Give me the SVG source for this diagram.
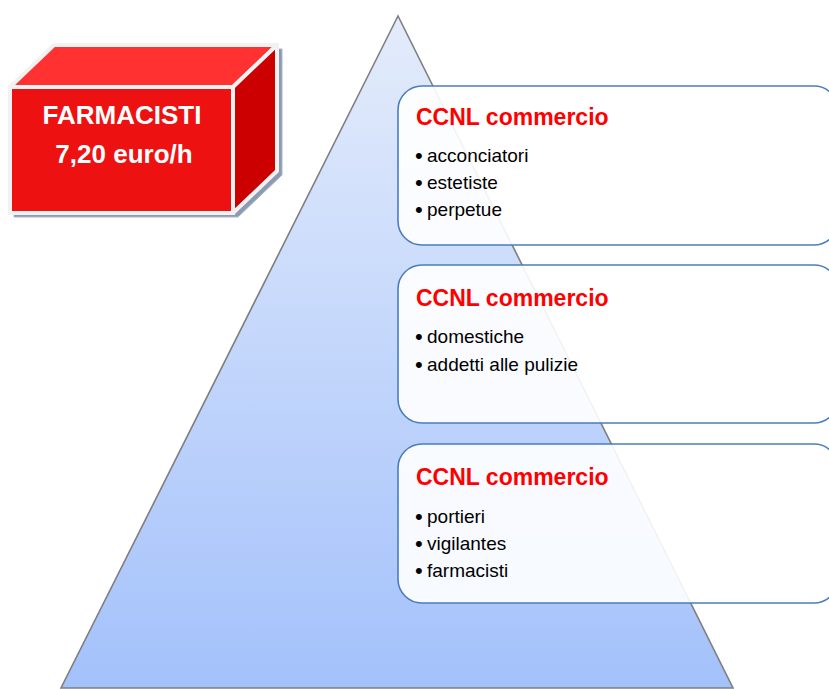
<svg xmlns="http://www.w3.org/2000/svg" width="829" height="689" viewBox="0 0 829 689">
<defs>
<linearGradient id="pyr" x1="0" y1="0" x2="0" y2="1">
<stop offset="0" stop-color="#e4ecfb"/>
<stop offset="1" stop-color="#a3c1fb"/>
</linearGradient>
<style>
.box{fill:#ffffff;fill-opacity:0.9;stroke:#4a7ebb;stroke-width:1.6}
.title{font-family:"Liberation Sans",Arial,sans-serif;font-weight:bold;font-size:23px;fill:#ff0000}
.item{font-family:"Liberation Sans",Arial,sans-serif;font-size:19px;fill:#000000}
.bul{font-family:"Liberation Sans",Arial,sans-serif;font-size:22px;fill:#000000}
.cube{font-family:"Liberation Sans",Arial,sans-serif;font-weight:bold;font-size:26px;fill:#ffffff}
</style>
</defs>
<rect width="829" height="689" fill="#ffffff"/>
<g id="pyramid">
<polygon points="398,16 61,688 733,688" fill="url(#pyr)" stroke="#7f7f7f" stroke-width="1.6"/>
</g>
<g id="cube">
<polygon points="14,91 58,49 282,49 282,175 238,217 14,217" fill="#8d9bb0" stroke="#a9b6c8" stroke-width="1"/>
<polygon points="10,87 54,45 277,45 233,87" fill="#ff3131" stroke="#f2f2f2" stroke-width="4" stroke-linejoin="round"/>
<polygon points="233,87 277,45 277,171 233,213" fill="#cc0000" stroke="#f2f2f2" stroke-width="4" stroke-linejoin="round"/>
<rect x="10" y="87" width="223" height="126" fill="#ee1111" stroke="#f2f2f2" stroke-width="4"/>
<text class="cube" x="122" y="124" text-anchor="middle">FARMACISTI</text>
<text class="cube" x="124" y="163" text-anchor="middle">7,20 euro/h</text>
</g>
<g id="box1">
<rect class="box" x="398" y="86" width="440" height="159" rx="24"/>
<text class="title" x="416" y="125">CCNL commercio</text>
<text class="bul" x="415" y="163">•</text><text class="item" x="427" y="162">acconciatori</text>
<text class="bul" x="415" y="190">•</text><text class="item" x="427" y="189">estetiste</text>
<text class="bul" x="415" y="217">•</text><text class="item" x="427" y="216">perpetue</text>
</g>
<g id="box2">
<rect class="box" x="398" y="265" width="440" height="158" rx="24"/>
<text class="title" x="416" y="306">CCNL commercio</text>
<text class="bul" x="415" y="344">•</text><text class="item" x="427" y="343">domestiche</text>
<text class="bul" x="415" y="372">•</text><text class="item" x="427" y="371">addetti alle pulizie</text>
</g>
<g id="box3">
<rect class="box" x="398" y="444" width="440" height="159" rx="24"/>
<text class="title" x="416" y="485">CCNL commercio</text>
<text class="bul" x="415" y="524">•</text><text class="item" x="427" y="523">portieri</text>
<text class="bul" x="415" y="551">•</text><text class="item" x="427" y="550">vigilantes</text>
<text class="bul" x="415" y="578">•</text><text class="item" x="427" y="577">farmacisti</text>
</g>
<g id="connectors"/>
</svg>
